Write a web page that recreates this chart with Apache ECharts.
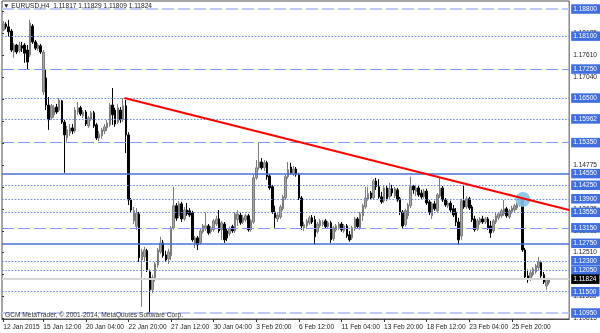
<!DOCTYPE html>
<html><head><meta charset="utf-8">
<script src="https://cdn.jsdelivr.net/npm/echarts@6/dist/echarts.min.js"></script>
<style>html,body{margin:0;padding:0;background:#fff}#c{width:600px;height:333px}</style>
</head><body><div id="c"></div>
<script>
const symbolName = 'EURUSD,H4';
const openVals = [1.1826,1.1841,1.1834,1.1823,1.1769,1.1787,1.1772,1.1785,1.1787,1.1774,
1.1761,1.1836,1.1795,1.1777,1.1785,1.1666,1.1702,1.1632,1.1599,1.1607,
1.1627,1.1619,1.1643,1.1588,1.1547,1.1560,1.1573,1.1565,1.1614,1.1625,
1.1604,1.1614,1.1578,1.1596,1.1612,1.1581,1.1547,1.1552,1.1565,1.1573,
1.1581,1.1632,1.1619,1.1588,1.1619,1.1594,1.1630,1.1555,1.1387,1.1333,
1.1319,1.1351,1.1232,1.1240,1.1256,1.1201,1.1155,1.1183,1.1219,1.1253,
1.1276,1.1245,1.1235,1.1243,1.1315,1.1372,1.1346,1.1377,1.1338,1.1361,
1.1359,1.1354,1.1274,1.1289,1.1276,1.1305,1.1312,1.1320,1.1305,1.1310,
1.1325,1.1338,1.1310,1.1325,1.1307,1.1300,1.1318,1.1307,1.1336,1.1348,
1.1330,1.1336,1.1346,1.1310,1.1330,1.1444,1.1470,1.1485,1.1470,1.1483,
1.1449,1.1421,1.1356,1.1338,1.1343,1.1364,1.1392,1.1447,1.1472,1.1454,
1.1467,1.1452,1.1392,1.1315,1.1320,1.1328,1.1341,1.1336,1.1305,1.1320,
1.1323,1.1333,1.1318,1.1328,1.1287,1.1310,1.1315,1.1325,1.1307,1.1320,
1.1297,1.1289,1.1312,1.1338,1.1315,1.1346,1.1369,1.1390,1.1405,1.1392,
1.1436,1.1421,1.1395,1.1385,1.1418,1.1395,1.1416,1.1397,1.1413,1.1390,
1.1356,1.1323,1.1346,1.1372,1.1423,1.1408,1.1418,1.1405,1.1395,1.1410,
1.1382,1.1346,1.1377,1.1359,1.1397,1.1418,1.1387,1.1372,1.1379,1.1364,
1.1356,1.1330,1.1294,1.1385,1.1369,1.1390,1.1369,1.1338,1.1312,1.1328,
1.1338,1.1330,1.1338,1.1320,1.1307,1.1330,1.1341,1.1346,1.1351,1.1364,
1.1343,1.1356,1.1361,1.1366,1.1374,1.1385,1.1258,1.1191,1.1183,1.1194,
1.1201,1.1212,1.1225,1.1194,1.1165,1.1173,1.11817];
const highVals = [1.1849,1.1846,1.1852,1.1828,1.1792,1.1790,1.1795,1.1795,1.1792,1.1787,
1.1852,1.1841,1.1800,1.1792,1.1790,1.1774,1.1723,1.1653,1.1635,1.1632,
1.1635,1.1650,1.1645,1.1594,1.1578,1.1583,1.1583,1.1627,1.1640,1.1630,
1.1619,1.1619,1.1604,1.1617,1.1617,1.1586,1.1565,1.1573,1.1583,1.1594,
1.1637,1.1676,1.1625,1.1635,1.1627,1.1650,1.1645,1.1562,1.1392,1.1369,
1.1366,1.1356,1.1261,1.1266,1.1261,1.1207,1.1194,1.1227,1.1263,1.1292,
1.1284,1.1256,1.1261,1.1320,1.1421,1.1379,1.1384,1.1382,1.1369,1.1379,
1.1366,1.1359,1.1294,1.1294,1.1312,1.1325,1.1354,1.1325,1.1320,1.1338,
1.1346,1.1361,1.1333,1.1330,1.1312,1.1318,1.1323,1.1356,1.1361,1.1354,
1.1348,1.1351,1.1351,1.1338,1.1452,1.1490,1.1534,1.1495,1.1490,1.1488,
1.1454,1.1426,1.1372,1.1356,1.1374,1.1400,1.1452,1.1485,1.1483,1.1475,
1.1472,1.1457,1.1397,1.1330,1.1338,1.1346,1.1348,1.1346,1.1330,1.1338,
1.1336,1.1338,1.1333,1.1333,1.1320,1.1325,1.1330,1.1330,1.1325,1.1325,
1.1307,1.1320,1.1343,1.1343,1.1356,1.1377,1.1421,1.1421,1.1410,1.1441,
1.1444,1.1441,1.1408,1.1423,1.1423,1.1431,1.1426,1.1421,1.1418,1.1395,
1.1361,1.1364,1.1379,1.1447,1.1426,1.1426,1.1423,1.1413,1.1416,1.1416,
1.1387,1.1382,1.1385,1.1405,1.1444,1.1423,1.1392,1.1385,1.1385,1.1374,
1.1366,1.1341,1.1390,1.1426,1.1397,1.1395,1.1374,1.1346,1.1338,1.1343,
1.1346,1.1343,1.1343,1.1333,1.1338,1.1356,1.1356,1.1364,1.1387,1.1369,
1.1364,1.1372,1.1377,1.1382,1.1395,1.1390,1.1263,1.1207,1.1207,1.1214,
1.1222,1.1240,1.1230,1.1201,1.1186,1.1186,1.11829];
const lowVals = [1.1823,1.1828,1.1808,1.1769,1.1754,1.1764,1.1766,1.1769,1.1741,1.1725,
1.1756,1.1790,1.1774,1.1772,1.1764,1.1658,1.1619,1.1568,1.1594,1.1599,
1.1609,1.1614,1.1583,1.1457,1.1537,1.1552,1.1557,1.1560,1.1607,1.1604,
1.1599,1.1578,1.1573,1.1591,1.1573,1.1542,1.1539,1.1545,1.1557,1.1565,
1.1576,1.1581,1.1576,1.1583,1.1586,1.1588,1.1508,1.1374,1.1356,1.1325,
1.1310,1.1227,1.1111,1.1227,1.1201,1.1096,1.1147,1.1176,1.1212,1.1248,
1.1238,1.1227,1.1222,1.1232,1.1310,1.1333,1.1340,1.1330,1.1333,1.1346,
1.1343,1.1279,1.1263,1.1258,1.1271,1.1300,1.1307,1.1297,1.1300,1.1305,
1.1320,1.1302,1.1284,1.1276,1.1281,1.1294,1.1302,1.1302,1.1320,1.1323,
1.1325,1.1330,1.1305,1.1305,1.1325,1.1439,1.1465,1.1465,1.1462,1.1439,
1.1413,1.1351,1.1315,1.1330,1.1338,1.1359,1.1387,1.1442,1.1452,1.1449,
1.1447,1.1387,1.1310,1.1307,1.1315,1.1323,1.1325,1.1271,1.1300,1.1315,
1.1318,1.1312,1.1312,1.1276,1.1281,1.1305,1.1310,1.1305,1.1302,1.1289,
1.1279,1.1284,1.1307,1.1312,1.1310,1.1333,1.1364,1.1385,1.1387,1.1387,
1.1413,1.1390,1.1377,1.1379,1.1385,1.1390,1.1397,1.1392,1.1382,1.1348,
1.1312,1.1318,1.1338,1.1366,1.1403,1.1397,1.1395,1.1390,1.1390,1.1374,
1.1348,1.1338,1.1359,1.1354,1.1392,1.1382,1.1369,1.1366,1.1356,1.1343,
1.1320,1.1271,1.1284,1.1364,1.1364,1.1361,1.1330,1.1305,1.1307,1.1323,
1.1325,1.1325,1.1310,1.1289,1.1302,1.1325,1.1336,1.1341,1.1346,1.1341,
1.1338,1.1351,1.1356,1.1361,1.1369,1.1253,1.1183,1.1173,1.1178,1.1189,
1.1196,1.1204,1.1186,1.1170,1.1155,1.1168,1.11809];
const closeVals = [1.1841,1.1834,1.1821,1.1774,1.1787,1.1769,1.1787,1.1779,1.1766,1.1743,
1.1844,1.1795,1.1779,1.1787,1.1769,1.1769,1.1632,1.1594,1.1630,1.1625,
1.1614,1.1645,1.1588,1.1555,1.1568,1.1573,1.1565,1.1619,1.1625,1.1609,
1.1614,1.1583,1.1599,1.1612,1.1578,1.1547,1.1557,1.1568,1.1576,1.1586,
1.1632,1.1607,1.1583,1.1625,1.1594,1.1630,1.1555,1.1387,1.1361,1.1359,
1.1353,1.1238,1.1253,1.1258,1.1207,1.1155,1.1186,1.1222,1.1258,1.1276,
1.1243,1.1232,1.1253,1.1315,1.1372,1.1340,1.1377,1.1338,1.1361,1.1351,
1.1348,1.1284,1.1289,1.1271,1.1307,1.1320,1.1320,1.1302,1.1315,1.1333,
1.1338,1.1307,1.1328,1.1284,1.1289,1.1312,1.1307,1.1351,1.1351,1.1328,
1.1341,1.1346,1.1310,1.1333,1.1444,1.1470,1.1485,1.1470,1.1483,1.1447,
1.1418,1.1356,1.1341,1.1348,1.1369,1.1395,1.1447,1.1465,1.1457,1.1467,
1.1452,1.1392,1.1320,1.1323,1.1333,1.1341,1.1330,1.1292,1.1325,1.1333,
1.1330,1.1318,1.1328,1.1284,1.1315,1.1320,1.1325,1.1310,1.1320,1.1294,
1.1284,1.1315,1.1338,1.1318,1.1351,1.1372,1.1392,1.1403,1.1392,1.1436,
1.1421,1.1395,1.1382,1.1418,1.1390,1.1416,1.1405,1.1416,1.1387,1.1356,
1.1320,1.1359,1.1374,1.1421,1.1413,1.1418,1.1400,1.1395,1.1410,1.1379,
1.1354,1.1377,1.1364,1.1400,1.1418,1.1387,1.1374,1.1379,1.1361,1.1348,
1.1330,1.1284,1.1385,1.1369,1.1390,1.1366,1.1336,1.1310,1.1333,1.1338,
1.1330,1.1338,1.1315,1.1302,1.1333,1.1346,1.1351,1.1359,1.1364,1.1346,
1.1359,1.1366,1.1372,1.1377,1.1385,1.1258,1.1188,1.1181,1.1199,1.1209,
1.1217,1.1227,1.1191,1.1175,1.1181,1.1181,1.11824];
const firstBar = '2015-01-13T00:00';
const emptySlots = 6;
const tickIndex = [0,15,31,47,63,79,95,111,127,143,159,175,191];
const tickText = ['12 Jan 2015','15 Jan 12:00','20 Jan 04:00','22 Jan 20:00','27 Jan 12:00','30 Jan 04:00','3 Feb 20:00','6 Feb 12:00','11 Feb 04:00','13 Feb 20:00','18 Feb 12:00','23 Feb 04:00','25 Feb 20:00'];
const priceTicks = [1.18755,1.18185,1.17610,1.17040,1.16470,1.15900,1.15330,1.14775,1.14205,1.13635,1.13065,1.12510,1.11940,1.11385,1.10815];
const levelValues = [1.18800,1.18100,1.17250,1.16500,1.15962,1.15350,1.14550,1.14250,1.13900,1.13550,1.13150,1.12750,1.12300,1.12050,1.11500,1.10950];
const levelKinds = ['outer','dot','dash','dot','dot','dash','solid','dot','dot','dot','dash','solid','dot','dot','dot','outer'];
const bidPrice = 1.11824;
const trendLine = [[46.0, 1.1650], [213, 1.1361]];
const touchPoint = [195.6, 1.1388];

// categories (H4 bars, weekends skipped)
const nBars = openVals.length + emptySlots;
const categories = [];
{
  let t = new Date(firstBar + ':00Z').getTime();
  while (categories.length < nBars) {
    const d = new Date(t);
    const wd = d.getUTCDay();
    if (wd !== 0 && wd !== 6) categories.push(d.toISOString().slice(0,16).replace('T',' '));
    t += 4*3600*1000;
  }
}
const candles = openVals.map((o,i)=>[o, closeVals[i], lowVals[i], highVals[i]]);

const FONT = 'Liberation Sans, Arial, sans-serif';
const FS = 6.6;
const kindStyle = {
  outer: {color:'#bfcbf3', width:2.2, type:[12,4]},
  dot:   {color:'#6d8ce6', width:1, type:[1.6,1.6]},
  dash:  {color:'#7a95e2', width:1, type:[12,4]},
  solid: {color:'#4a70d8', width:1.6, type:'solid'}
};
function levelLabel(text, bg) {
  return {show:true, position:'end', distance:2, formatter:text, color:'#fff', backgroundColor:bg,
    padding:[1.5,3,1,2], fontSize:FS, fontFamily:FONT};
}
function hline(value, style, label) {
  return [{coord:[0, value], lineStyle:style, label:label}, {coord:[nBars, value]}];
}
const levelLines = levelValues.map((v,i)=>hline(v, Object.assign({}, kindStyle[levelKinds[i]]), levelLabel(v.toFixed(5), '#3f6ee0')));
levelLines.push(hline(bidPrice, {color:'#d6d6d6', width:1.8, type:'solid'}, levelLabel(bidPrice.toFixed(5), '#000')));

const tickSet = new Set(tickIndex);
const last = openVals.length - 1;
const header = '\u25BC ' + symbolName + '  ' + [openVals[last], highVals[last], lowVals[last], closeVals[last]].map(v=>v.toFixed(5)).join(' ');

const chart = echarts.init(document.getElementById('c'), null, {renderer:'canvas'});
chart.setOption({
  animation: false,
  backgroundColor: '#fff',
  grid: {left:2, right:29, top:1, bottom:14, show:true, borderColor:'#4d4d4d', borderWidth:1, containLabel:false},
  xAxis: [{
    type:'category', data: categories, boundaryGap:true,
    axisLine:{show:true, lineStyle:{color:'#4d4d4d'}},
    axisTick:{show:true, alignWithLabel:true, length:3, interval:(i)=>tickSet.has(i), lineStyle:{color:'#333'}},
    axisLabel:{show:true, interval:(i)=>tickSet.has(i), align:'left', margin:5, fontSize:FS, fontFamily:FONT, color:'#222',
      formatter:(v,i)=>tickText[tickIndex.indexOf(i)]},
    splitLine:{show:false}
  },{
    type:'value', min:0, max:nBars, show:false
  }],
  yAxis: {
    type:'value', position:'right', min:1.10796, max:1.19007, scale:true,
    axisLine:{show:false}, splitLine:{show:false},
    axisTick:{show:true, length:2, customValues: priceTicks, lineStyle:{color:'#333'}},
    axisLabel:{show:true, customValues: priceTicks, margin:4, fontSize:FS, fontFamily:FONT, color:'#222', formatter:(v)=>v.toFixed(5)}
  },
  series: [
    {type:'scatter', xAxisIndex:1, data:[[0, bidPrice]], symbolSize:0, z:1, silent:true,
      markLine:{silent:true, symbol:['none','none'], animation:false, data: levelLines}},
    {type:'candlestick', data:candles, z:3, barWidth:2, silent:true,
      itemStyle:{color:'#a6a6a6', color0:'#000', borderColor:'#7c7c7c', borderColor0:'#000', borderWidth:1}},
    {type:'scatter', xAxisIndex:1, data:[touchPoint], symbolSize:15, z:4, silent:true,
      itemStyle:{color:'#84c4ea', opacity:0.9}},
    {type:'line', xAxisIndex:1, data:trendLine, z:5, symbol:'none', silent:true,
      lineStyle:{color:'#ff0000', width:2}}
  ],
  graphic: [
    {type:'text', left:3, top:2.5, z:10, style:{text:header, fontSize:FS, fontFamily:FONT, fill:'#222'}},
    {type:'text', left:5, top:312, z:10, style:{text:'GCM MetaTrader, \u00A9 2001-2014, MetaQuotes Software Corp.', fontSize:FS, fontFamily:FONT, fill:'#333'}}
  ]
});
</script></body></html>
